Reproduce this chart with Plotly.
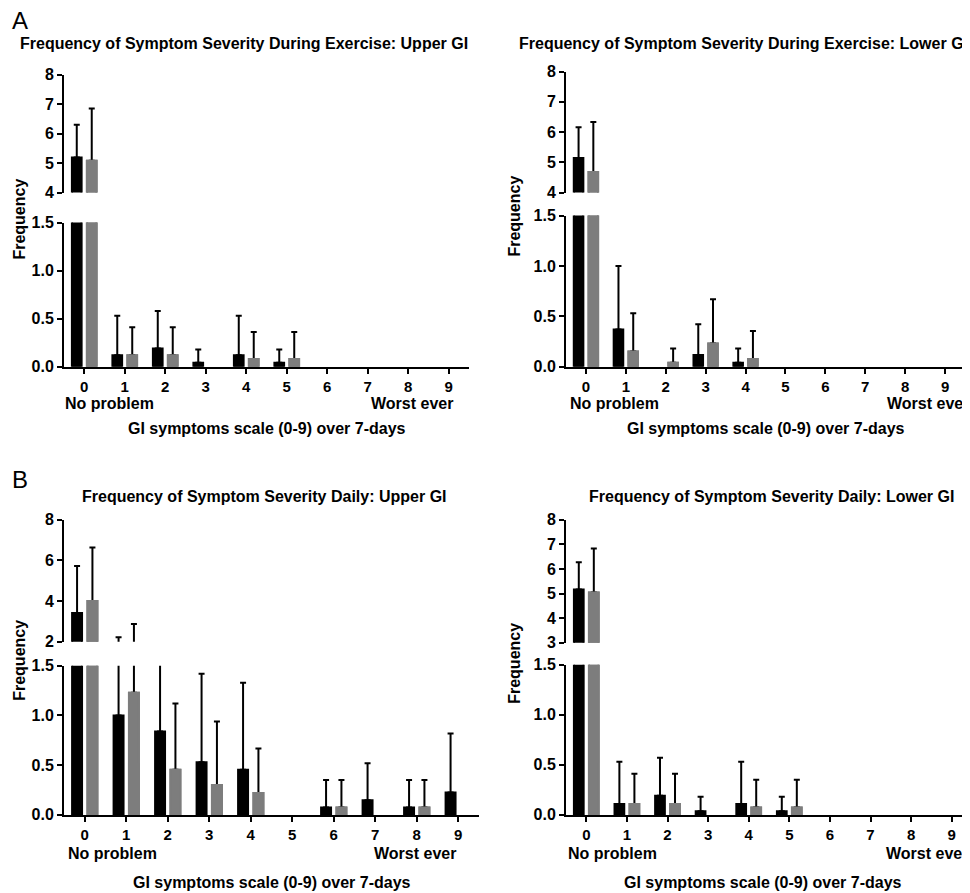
import plotly.graph_objects as go

# ---------------- data ----------------
categories = [0, 1, 2, 3, 4, 5, 6, 7, 8, 9]
tick_labels = ["0", "1", "2", "3", "4", "5", "6", "7", "8", "9"]

title_ex_upper = "Frequency of Symptom Severity During Exercise: Upper GI"
title_ex_lower = "Frequency of Symptom Severity During Exercise: Lower GI"
title_da_upper = "Frequency of Symptom Severity Daily: Upper GI"
title_da_lower = "Frequency of Symptom Severity Daily: Lower GI"
x_title = "GI symptoms scale (0-9) over 7-days"
y_title = "Frequency"

# Exercise, upper GI (mean, and top of the SD bar)
ex_upper_black = [5.19, 0.12, 0.19, 0.04, 0.12, 0.04, 0, 0, 0, 0]
ex_upper_black_top = [6.30, 0.53, 0.58, 0.18, 0.53, 0.18, 0, 0, 0, 0]
ex_upper_gray = [5.08, 0.12, 0.12, 0, 0.08, 0.08, 0, 0, 0, 0]
ex_upper_gray_top = [6.85, 0.41, 0.41, 0, 0.36, 0.36, 0, 0, 0, 0]

# Exercise, lower GI
ex_lower_black = [5.14, 0.37, 0, 0.115, 0.04, 0, 0, 0, 0, 0]
ex_lower_black_top = [6.16, 1.00, 0, 0.42, 0.18, 0, 0, 0, 0, 0]
ex_lower_gray = [4.68, 0.15, 0.04, 0.23, 0.077, 0, 0, 0, 0, 0]
ex_lower_gray_top = [6.33, 0.53, 0.18, 0.67, 0.355, 0, 0, 0, 0, 0]

# Daily, upper GI
da_upper_black = [3.41, 1.00, 0.84, 0.53, 0.455, 0, 0.074, 0.148, 0.074, 0.225]
da_upper_black_top = [5.72, 2.22, 1.75, 1.42, 1.33, 0, 0.35, 0.52, 0.35, 0.82]
da_upper_gray = [4.00, 1.23, 0.455, 0.30, 0.22, 0, 0.074, 0, 0.074, 0]
da_upper_gray_top = [6.63, 2.87, 1.12, 0.94, 0.667, 0, 0.35, 0, 0.35, 0]

# Daily, lower GI
da_lower_black = [5.17, 0.11, 0.19, 0.036, 0.11, 0.036, 0, 0, 0, 0]
da_lower_black_top = [6.27, 0.53, 0.57, 0.18, 0.53, 0.18, 0, 0, 0, 0]
da_lower_gray = [5.04, 0.11, 0.11, 0, 0.073, 0.073, 0, 0, 0, 0]
da_lower_gray_top = [6.83, 0.41, 0.41, 0, 0.35, 0.35, 0, 0, 0, 0]

# ---------------- layout geometry (target pixels) ----------------
W, H = 970, 893
# small empirical correction so that target pixels land where intended
X_SHIFT = 6.0
Y_OFF, Y_SCALE = 17.5, 0.9805


def fx(px):
    return (px - X_SHIFT) / W


def fy(py):
    return 1 - ((py - Y_OFF) / Y_SCALE) / H


BLACK = "#000000"
GRAY = "#7d7d7d"
FONT = "Liberation Sans, Arial, sans-serif"

panels = [
    dict(title=title_ex_upper, black=ex_upper_black, black_top=ex_upper_black_top,
         gray=ex_upper_gray, gray_top=ex_upper_gray_top,
         up_range=[4, 8], up_ticks=[4, 5, 6, 7, 8],
         x_px=(62, 467), low_px=(224, 368), up_px=(76, 194),
         title_xy=(242, 45), xt_xy=(265, 430), lab_y=405, np_x=62, we_x=452,
         ylab_xy=(18, 221)),
    dict(title=title_ex_lower, black=ex_lower_black, black_top=ex_lower_black_top,
         gray=ex_lower_gray, gray_top=ex_lower_gray_top,
         up_range=[4, 8], up_ticks=[4, 5, 6, 7, 8],
         x_px=(564, 963), low_px=(217, 368), up_px=(73, 194),
         title_xy=(741, 45), xt_xy=(764, 430), lab_y=405, np_x=567, we_x=968,
         ylab_xy=(513, 218)),
    dict(title=title_da_upper, black=da_upper_black, black_top=da_upper_black_top,
         gray=da_upper_gray, gray_top=da_upper_gray_top,
         up_range=[2, 8], up_ticks=[2, 4, 6, 8],
         x_px=(62, 477), low_px=(667, 816), up_px=(521, 643),
         title_xy=(262, 498), xt_xy=(270, 884), lab_y=855, np_x=65, we_x=455,
         ylab_xy=(18, 662)),
    dict(title=title_da_lower, black=da_lower_black, black_top=da_lower_black_top,
         gray=da_lower_gray, gray_top=da_lower_gray_top,
         up_range=[3, 8], up_ticks=[3, 4, 5, 6, 7, 8],
         x_px=(564, 970), low_px=(666, 816), up_px=(521, 644),
         title_xy=(769, 498), xt_xy=(761, 884), lab_y=855, np_x=565, we_x=967,
         ylab_xy=(513, 665)),
]

BAR_W = 0.24       # bar width in category units
HALF_SEP = 0.185   # distance of bar centre from category centre
FS = 16

fig = go.Figure()
layout = dict()
annotations = []

bold = dict(family=FONT, size=FS, color=BLACK, weight="bold")
xtick_font = dict(family=FONT, size=15, color=BLACK, weight="bold")
axis_common = dict(showline=True, linecolor=BLACK, linewidth=2, ticks="outside",
                   ticklen=5, tickwidth=2, tickcolor=BLACK, showgrid=False,
                   zeroline=False, tickfont=bold)


def nz(values):
    return [v if v > 0 else None for v in values]


def plus_err(mean, top):
    return [(t - m) if t > 0 else None for m, t in zip(mean, top)]


for i, p in enumerate(panels):
    xi = i + 1
    ylo = 2 * i + 1
    yup = 2 * i + 2
    xname = "x" if xi == 1 else f"x{xi}"
    ylo_name = "y" if ylo == 1 else f"y{ylo}"
    yup_name = f"y{yup}"

    for yname in (ylo_name, yup_name):
        # black bars
        fig.add_trace(go.Bar(
            x=categories, y=nz(p["black"]), width=BAR_W, offset=-HALF_SEP - BAR_W / 2,
            marker=dict(color=BLACK, line=dict(color=BLACK, width=2)),
            error_y=dict(type="data", symmetric=False, array=plus_err(p["black"], p["black_top"]),
                         arrayminus=[0] * len(categories), color=BLACK, thickness=2, width=3),
            xaxis=xname, yaxis=yname, showlegend=False, hoverinfo="skip"))
        # gray bars with error bars
        fig.add_trace(go.Bar(
            x=categories, y=nz(p["gray"]), width=BAR_W, offset=HALF_SEP - BAR_W / 2,
            marker=dict(color=GRAY, line=dict(color=GRAY, width=2)),
            error_y=dict(type="data", symmetric=False, array=plus_err(p["gray"], p["gray_top"]),
                         arrayminus=[0] * len(categories), color=BLACK, thickness=2, width=3),
            xaxis=xname, yaxis=yname, showlegend=False, hoverinfo="skip"))
        # gray bars drawn again on top (hide the error-bar foot)
        fig.add_trace(go.Bar(
            x=categories, y=nz(p["gray"]), width=BAR_W, offset=HALF_SEP - BAR_W / 2,
            marker=dict(color=GRAY, line=dict(color=GRAY, width=2)),
            xaxis=xname, yaxis=yname, showlegend=False, hoverinfo="skip"))

    x0, x1 = p["x_px"]
    layout["xaxis" if xi == 1 else f"xaxis{xi}"] = dict(
        axis_common, domain=[max(0, fx(x0)), min(1, fx(x1))], range=[-0.5, 9.5], anchor=ylo_name,
        tickvals=categories, ticktext=tick_labels, tickfont=xtick_font)
    lt, lb = p["low_px"]
    layout["yaxis" if ylo == 1 else f"yaxis{ylo}"] = dict(
        axis_common, domain=[fy(lb), fy(lt)], range=[0, 1.5], anchor=xname,
        tickvals=[0, 0.5, 1.0, 1.5], ticktext=["0.0", "0.5", "1.0", "1.5"])
    ut, ub = p["up_px"]
    layout[f"yaxis{yup}"] = dict(
        axis_common, domain=[fy(ub), fy(ut)], range=p["up_range"], anchor=xname,
        tickvals=p["up_ticks"], ticktext=[str(v) for v in p["up_ticks"]])

    tx, ty = p["title_xy"]
    annotations.append(dict(text=p["title"], x=fx(tx), y=fy(ty), xref="paper", yref="paper",
                            xanchor="center", yanchor="middle", showarrow=False, font=bold))
    xtx, xty = p["xt_xy"]
    annotations.append(dict(text=x_title, x=fx(xtx), y=fy(xty), xref="paper", yref="paper",
                            xanchor="center", yanchor="middle", showarrow=False, font=bold))
    annotations.append(dict(text="No problem", x=fx(p["np_x"]), y=fy(p["lab_y"]), xref="paper",
                            yref="paper", xanchor="left", yanchor="middle", showarrow=False,
                            font=bold, borderpad=0))
    annotations.append(dict(text="Worst ever", x=fx(p["we_x"]), y=fy(p["lab_y"]), xref="paper",
                            yref="paper", xanchor="right", yanchor="middle", showarrow=False,
                            font=bold, borderpad=0))
    yx, yy = p["ylab_xy"]
    annotations.append(dict(text=y_title, x=fx(yx), y=fy(yy), xref="paper", yref="paper",
                            xanchor="center", yanchor="middle", textangle=-90, showarrow=False,
                            font=bold))

letter_font = dict(family=FONT, size=24, color=BLACK)
annotations.append(dict(text="A", x=fx(18), y=fy(22), xref="paper", yref="paper",
                        xanchor="center", yanchor="middle", showarrow=False, font=letter_font))
annotations.append(dict(text="B", x=fx(18), y=fy(481), xref="paper", yref="paper",
                        xanchor="center", yanchor="middle", showarrow=False, font=letter_font))

fig.update_layout(
    width=W, height=H,
    margin=dict(l=0, r=0, t=0, b=0),
    paper_bgcolor="white", plot_bgcolor="white",
    barmode="overlay",
    annotations=annotations,
    font=dict(family=FONT, size=FS, color=BLACK),
    **layout,
)

fig.write_html("out.html")
